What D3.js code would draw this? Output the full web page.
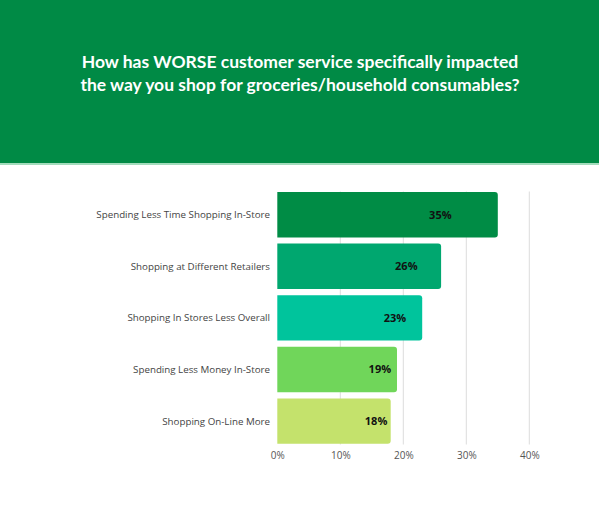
<!DOCTYPE html>
<html>
<head>
<meta charset="utf-8">
<script src="https://cdn.jsdelivr.net/npm/d3@7"></script>
<style>
  html, body { margin: 0; padding: 0; background: #fff; }
  svg { display: block; }
</style>
</head>
<body>
<div id="chart"></div>
<script>
const titleLines = [
  "How has WORSE customer service specifically impacted",
  "the way you shop for groceries/household consumables?"
];
const categories = [
  "Spending Less Time Shopping In-Store",
  "Shopping at Different Retailers",
  "Shopping In Stores Less Overall",
  "Spending Less Money In-Store",
  "Shopping On-Line More"
];
const values = [35, 26, 23, 19, 18];
const barColors = ["#008c45", "#00a76f", "#00c49c", "#70d65a", "#c4e26c"];
const tickValues = [0, 10, 20, 30, 40];

const W = 599, H = 511;
const svg = d3.select("#chart").append("svg").attr("width", W).attr("height", H);

// Header
svg.append("rect").attr("x", 0).attr("y", 0).attr("width", W).attr("height", 163).attr("fill", "#008a45");
svg.append("rect").attr("x", 0).attr("y", 163).attr("width", W).attr("height", 2).attr("fill", "#a3dcbc");
svg.selectAll("text.title").data(titleLines).enter().append("text")
  .attr("class", "title")
  .attr("x", 300).attr("y", (d, i) => 68 + i * 23)
  .attr("text-anchor", "middle")
  .attr("font-family", "Lato, 'Open Sans', sans-serif")
  .attr("font-weight", "bold")
  .attr("font-size", 17.5)
  .attr("fill", "#fff")
  .text(d => d);

const x = d3.scaleLinear().domain([0, 40]).range([277.3, 529.3]);
const y = d3.scaleBand().domain(categories).range([192, 443.8]).paddingInner(0.12).paddingOuter(0);

// Grid
svg.append("g").selectAll("line").data(tickValues.slice(1)).enter().append("line")
  .attr("x1", d => x(d)).attr("x2", d => x(d))
  .attr("y1", 191.5).attr("y2", 444.5)
  .attr("stroke", "#dcdcdc").attr("stroke-width", 1);

// Axis
const axis = d3.axisBottom(x).tickValues(tickValues).tickFormat(d => d + "%").tickSize(0).tickPadding(0);
const ag = svg.append("g").attr("transform", "translate(0,452)").call(axis);
ag.select(".domain").remove();
ag.selectAll("text")
  .attr("font-family", "'Open Sans', sans-serif")
  .attr("font-size", 10)
  .attr("fill", "#555")
  .attr("dy", "0.7em");

// Bars with rounded right corners
function barPath(x0, y0, w, h, r) {
  r = Math.min(r, w, h / 2);
  return `M${x0},${y0}H${x0 + w - r}Q${x0 + w},${y0} ${x0 + w},${y0 + r}V${y0 + h - r}Q${x0 + w},${y0 + h} ${x0 + w - r},${y0 + h}H${x0}Z`;
}
const data = categories.map((c, i) => ({ c, v: values[i], color: barColors[i] }));
svg.append("g").selectAll("path").data(data).enter().append("path")
  .attr("d", d => barPath(x(0), y(d.c), x(d.v) - x(0), y.bandwidth(), 3))
  .attr("fill", d => d.color);

// Category labels
svg.append("g").selectAll("text").data(data).enter().append("text")
  .attr("x", 270)
  .attr("y", d => y(d.c) + y.bandwidth() / 2)
  .attr("dy", "0.35em")
  .attr("text-anchor", "end")
  .attr("font-family", "'Open Sans', sans-serif")
  .attr("font-size", 9.75)
  .attr("fill", "#444")
  .text(d => d.c);

// Value labels
svg.append("g").selectAll("text").data(data).enter().append("text")
  .attr("x", d => x(0) + 0.6 * (x(d.v) - x(0)) + 42)
  .attr("y", d => y(d.c) + y.bandwidth() / 2)
  .attr("dy", "0.35em")
  .attr("text-anchor", "end")
  .attr("font-family", "'Open Sans', sans-serif")
  .attr("font-weight", "bold")
  .attr("font-size", 11)
  .attr("fill", "#111")
  .text(d => d.v + "%");
</script>
</body>
</html>
